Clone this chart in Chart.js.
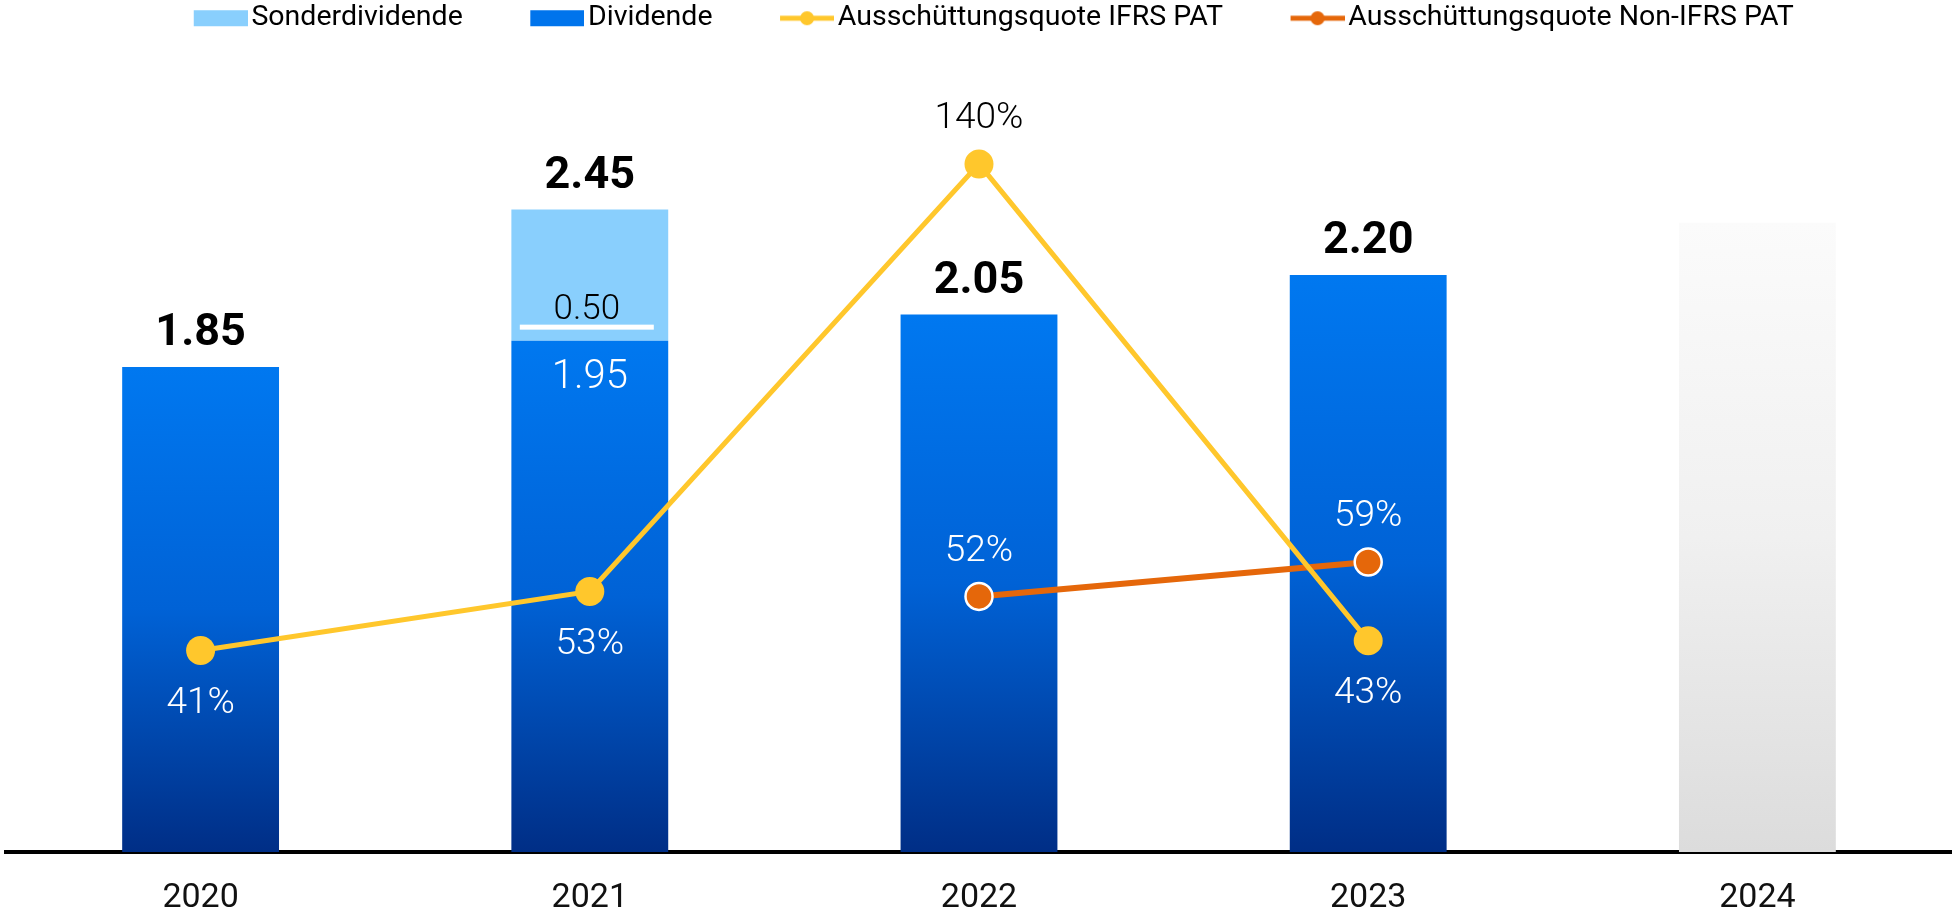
<!DOCTYPE html>
<html>
<head>
<meta charset="utf-8">
<script src="https://cdn.jsdelivr.net/npm/chart.js@4"></script>
<style>
  html, body { margin: 0; padding: 0; background: #fff; overflow: hidden; }
  #wrap { width: 1952px; height: 915px; }
</style>
</head>
<body>
<div id="wrap"><canvas id="chart"></canvas></div>
<script>
const categories = ['2020', '2021', '2022', '2023', '2024'];
const dividend = [1.85, 1.95, 2.05, 2.20, null];
const specialDividend = [null, 0.50, null, null, null];
const outlook2024 = [null, null, null, null, 2.40];
const payoutIfrs = [41, 53, 140, 43, null];
const payoutNonIfrs = [null, null, 52, 59, null];

const BLUE = '#0074EC';
const LIGHT_BLUE = '#89CFFD';
const YELLOW = '#FFC72C';
const ORANGE = '#E5670A';

// legend icon drawn into a small canvas, right aligned so the gap to the text is small
function legendIcon(kind, color) {
    const w = 128, h = 22;
    const c = document.createElement('canvas');
    c.width = w; c.height = h;
    const g = c.getContext('2d');
    const x0 = w - 54;
    if (kind === 'box') {
        g.fillStyle = color;
        g.fillRect(x0, 3, 54, 16);
    } else {
        g.strokeStyle = color;
        g.lineWidth = 5;
        g.beginPath();
        g.moveTo(x0, h / 2);
        g.lineTo(w, h / 2);
        g.stroke();
        g.fillStyle = color;
        g.beginPath();
        g.arc(x0 + 27, h / 2, 7, 0, Math.PI * 2);
        g.fill();
    }
    return c;
}

function barGradient(values, stops) {
    return (context) => {
        const { chart, dataIndex } = context;
        if (!chart.chartArea) return stops[0];
        const v = values[dataIndex];
        if (v == null) return stops[0];
        const top = chart.scales.y.getPixelForValue(v);
        const bottom = chart.scales.y.getPixelForValue(0);
        const g = chart.ctx.createLinearGradient(0, top, 0, bottom);
        stops.forEach((col, i) => g.addColorStop(i / (stops.length - 1), col));
        return g;
    };
}

// nudge the legend row a bit to the left, like in the original slide
const legendShift = {
    id: 'legendShift',
    afterLayout(chart) {
        chart.legend.right -= 34;
    }
};

const valueLabels = {
    id: 'valueLabels',
    afterDatasetsDraw(chart) {
        const c = chart.ctx;
        const divMeta = chart.getDatasetMeta(0);
        const spMeta = chart.getDatasetMeta(1);
        const barTops = [];
        c.save();
        c.textAlign = 'center';
        c.textBaseline = 'middle';

        categories.forEach((cat, i) => {
            if (dividend[i] == null) { barTops[i] = null; return; }
            const d = divMeta.data[i];
            const s = specialDividend[i] != null ? spMeta.data[i] : null;
            const top = s ? s.y : d.y;
            barTops[i] = top;

            c.font = 'bold 45px Roboto';
            c.fillStyle = '#000';
            c.fillText((dividend[i] + (specialDividend[i] || 0)).toFixed(2), d.x, top - 33);

            if (s) {
                c.font = '300 40px Roboto';
                c.fillStyle = '#fff';
                c.fillText(dividend[i].toFixed(2), d.x, d.y + 37);

                c.font = '300 35px Roboto';
                c.fillStyle = '#000';
                c.fillText(specialDividend[i].toFixed(2), s.x - 3, s.base - 30);
                c.fillStyle = '#fff';
                c.fillRect(s.x - 70, s.base - 16, 134, 5);
            }
        });

        // payout ratio labels
        c.font = '300 37px Roboto';
        const drawPct = (dsIndex, values, defaultAbove) => {
            const meta = chart.getDatasetMeta(dsIndex);
            values.forEach((v, i) => {
                if (v == null) return;
                const p = meta.data[i];
                const top = barTops[i];
                const above = defaultAbove || (top != null && p.y < top);
                const y = above ? p.y - 45 : p.y + 53;
                c.fillStyle = (top != null && y > top) ? '#fff' : '#000';
                c.fillText(v + '%', p.x, y);
            });
        };
        drawPct(3, payoutIfrs, false);
        drawPct(4, payoutNonIfrs, true);
        c.restore();
    }
};

function draw() {
    const ctx = document.getElementById('chart').getContext('2d');
    new Chart(ctx, {
        type: 'bar',
        data: {
            labels: categories,
            datasets: [
                {
                    label: 'Dividende',
                    data: dividend,
                    backgroundColor: barGradient(dividend, ['#0078F0', '#0062D6', '#002E86']),
                    stack: 'div',
                    order: 3,
                    yAxisID: 'y'
                },
                {
                    label: 'Sonderdividende',
                    data: specialDividend,
                    backgroundColor: LIGHT_BLUE,
                    stack: 'div',
                    order: 3,
                    yAxisID: 'y'
                },
                {
                    label: '2024',
                    data: outlook2024,
                    backgroundColor: barGradient(outlook2024, ['#FBFBFB', '#F0F0F0', '#DCDCDC']),
                    stack: 'div',
                    order: 3,
                    yAxisID: 'y'
                },
                {
                    type: 'line',
                    label: 'Ausschüttungsquote IFRS PAT',
                    data: payoutIfrs,
                    borderColor: YELLOW,
                    backgroundColor: YELLOW,
                    borderWidth: 5,
                    pointRadius: 14.5,
                    pointBorderWidth: 0,
                    pointBackgroundColor: YELLOW,
                    order: 1,
                    yAxisID: 'y2'
                },
                {
                    type: 'line',
                    label: 'Ausschüttungsquote Non-IFRS PAT',
                    data: payoutNonIfrs,
                    borderColor: ORANGE,
                    backgroundColor: ORANGE,
                    borderWidth: 6,
                    pointRadius: 13.5,
                    pointBorderWidth: 2.5,
                    pointBorderColor: '#fff',
                    pointBackgroundColor: ORANGE,
                    order: 2,
                    yAxisID: 'y2'
                }
            ]
        },
        options: {
            responsive: true,
            maintainAspectRatio: false,
            animation: false,
            layout: { autoPadding: false, padding: { left: 6, right: 0, top: 0, bottom: 0 } },
            datasets: {
                bar: { categoryPercentage: 1, barPercentage: 0.403 }
            },
            plugins: {
                tooltip: { enabled: false },
                legend: {
                    position: 'top',
                    align: 'center',
                    labels: {
                        usePointStyle: true,
                        pointStyleWidth: 107,
                        padding: 4,
                        color: '#000',
                        font: { family: 'Roboto', size: 28.5 },
                        generateLabels: () => [
                            { text: 'Sonderdividende', pointStyle: legendIcon('box', LIGHT_BLUE), datasetIndex: 1, fontColor: '#000' },
                            { text: 'Dividende', pointStyle: legendIcon('box', BLUE), datasetIndex: 0, fontColor: '#000' },
                            { text: 'Ausschüttungsquote IFRS PAT', pointStyle: legendIcon('line', YELLOW), datasetIndex: 3, fontColor: '#000' },
                            { text: 'Ausschüttungsquote Non-IFRS PAT', pointStyle: legendIcon('line', ORANGE), datasetIndex: 4, fontColor: '#000' }
                        ]
                    }
                }
            },
            scales: {
                x: {
                    stacked: true,
                    grid: { display: false, drawTicks: false },
                    border: { display: true, color: '#000', width: 4 },
                    ticks: {
                        color: '#111',
                        padding: 26,
                        font: { family: 'Roboto', size: 34 }
                    },
                    afterFit: (scale) => { scale.height = 63; }
                },
                y: {
                    display: false,
                    stacked: true,
                    min: 0,
                    max: 3.087
                },
                y2: {
                    display: false,
                    min: 0,
                    max: 164.7
                }
            }
        },
        plugins: [legendShift, valueLabels]
    });
}

Promise.all([
    document.fonts.load('300 37px Roboto'),
    document.fonts.load('bold 45px Roboto'),
    document.fonts.load('28.5px Roboto')
]).then(draw, draw);
</script>
</body>
</html>
